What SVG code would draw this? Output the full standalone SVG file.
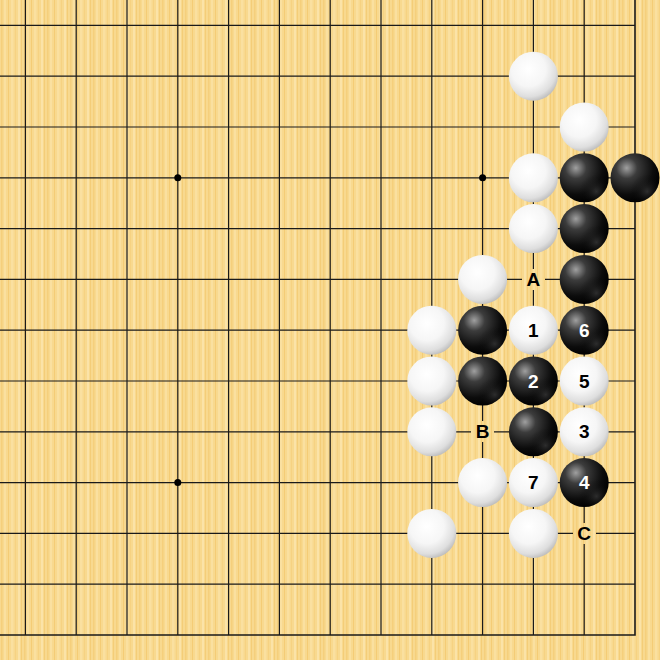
<svg xmlns="http://www.w3.org/2000/svg" width="660" height="660" viewBox="0 0 660 660">
<defs>
<pattern id="wood" patternUnits="userSpaceOnUse" x="0" y="0" width="23" height="10">
<rect width="23" height="10" fill="#F8D98F"/>
<rect x="1" width="1.5" height="10" fill="#F5CF7C"/>
<rect x="4" width="2" height="10" fill="#FAE0A0"/>
<rect x="8" width="1" height="10" fill="#F4CC76"/>
<rect x="11" width="2.5" height="10" fill="#FAE0A0"/>
<rect x="15" width="1" height="10" fill="#F6D282"/>
<rect x="18" width="2" height="10" fill="#FBE3A8"/>
<rect x="21" width="1" height="10" fill="#F4CD78"/>
</pattern>
<radialGradient id="gb" cx="0.33" cy="0.3" r="0.72">
<stop offset="0" stop-color="#a0a0a0"/>
<stop offset="0.3" stop-color="#3c3c3c"/>
<stop offset="0.75" stop-color="#0c0c0c"/>
<stop offset="1" stop-color="#000"/>
</radialGradient>
<radialGradient id="gbr" cx="0.75" cy="0.78" r="0.35">
<stop offset="0" stop-color="#555" stop-opacity="0.5"/>
<stop offset="1" stop-color="#000" stop-opacity="0"/>
</radialGradient>
<radialGradient id="gw" cx="0.4" cy="0.36" r="0.7">
<stop offset="0" stop-color="#ffffff"/>
<stop offset="0.5" stop-color="#f6f6f6"/>
<stop offset="0.8" stop-color="#dedede"/>
<stop offset="1" stop-color="#b4b4b4"/>
</radialGradient>
<style>
.ln{stroke:#1a1a1a;stroke-width:1.2;fill:none}
.edge{stroke:#1a1a1a;stroke-width:1.6;fill:none}
.b{fill:url(#gb)}
.br{fill:url(#gbr)}
.w{fill:url(#gw)}
.lb{font-family:"Liberation Sans",Arial,sans-serif;font-weight:bold;font-size:19px;text-anchor:middle;dominant-baseline:central}
.onb{fill:#fff}
.onw{fill:#000}
.mk{fill:#000}
</style>
</defs>
<rect width="660" height="660" fill="url(#wood)"/>
<g id="grid">
<path class="ln" d="M0 25.4H635 M0 76.2H635 M0 127H635 M0 177.8H635 M0 228.6H635 M0 279.4H635 M0 330.2H635 M0 381H635 M0 431.8H635 M0 482.6H635 M0 533.4H635 M0 584.2H635"/>
<path class="ln" d="M25.4 0V635 M76.2 0V635 M127 0V635 M177.8 0V635 M228.6 0V635 M279.4 0V635 M330.2 0V635 M381 0V635 M431.8 0V635 M482.6 0V635 M533.4 0V635 M584.2 0V635"/>
<path class="edge" d="M0 635H635V0"/>
<circle cx="177.8" cy="177.8" r="3.5" fill="#000"/>
<circle cx="482.6" cy="177.8" r="3.5" fill="#000"/>
<circle cx="177.8" cy="482.6" r="3.5" fill="#000"/>
<circle cx="482.6" cy="482.6" r="3.5" fill="#000"/>
</g>
<g id="stones">
<circle class="w" cx="533.4" cy="76.2" r="24.5"/>
<circle class="w" cx="584.2" cy="127" r="24.5"/>
<circle class="w" cx="533.4" cy="177.8" r="24.5"/>
<circle class="b" cx="584.2" cy="177.8" r="24.5"/><circle class="br" cx="584.2" cy="177.8" r="24.5"/>
<circle class="b" cx="635" cy="177.8" r="24.5"/><circle class="br" cx="635" cy="177.8" r="24.5"/>
<circle class="w" cx="533.4" cy="228.6" r="24.5"/>
<circle class="b" cx="584.2" cy="228.6" r="24.5"/><circle class="br" cx="584.2" cy="228.6" r="24.5"/>
<circle class="w" cx="482.6" cy="279.4" r="24.5"/>
<circle class="b" cx="584.2" cy="279.4" r="24.5"/><circle class="br" cx="584.2" cy="279.4" r="24.5"/>
<circle class="w" cx="431.8" cy="330.2" r="24.5"/>
<circle class="b" cx="482.6" cy="330.2" r="24.5"/><circle class="br" cx="482.6" cy="330.2" r="24.5"/>
<circle class="w" cx="533.4" cy="330.2" r="24.5"/>
<circle class="b" cx="584.2" cy="330.2" r="24.5"/><circle class="br" cx="584.2" cy="330.2" r="24.5"/>
<circle class="w" cx="431.8" cy="381" r="24.5"/>
<circle class="b" cx="482.6" cy="381" r="24.5"/><circle class="br" cx="482.6" cy="381" r="24.5"/>
<circle class="b" cx="533.4" cy="381" r="24.5"/><circle class="br" cx="533.4" cy="381" r="24.5"/>
<circle class="w" cx="584.2" cy="381" r="24.5"/>
<circle class="w" cx="431.8" cy="431.8" r="24.5"/>
<circle class="b" cx="533.4" cy="431.8" r="24.5"/><circle class="br" cx="533.4" cy="431.8" r="24.5"/>
<circle class="w" cx="584.2" cy="431.8" r="24.5"/>
<circle class="w" cx="482.6" cy="482.6" r="24.5"/>
<circle class="w" cx="533.4" cy="482.6" r="24.5"/>
<circle class="b" cx="584.2" cy="482.6" r="24.5"/><circle class="br" cx="584.2" cy="482.6" r="24.5"/>
<circle class="w" cx="431.8" cy="533.4" r="24.5"/>
<circle class="w" cx="533.4" cy="533.4" r="24.5"/>
</g>
<g id="labels">
<text class="lb onw" x="533.4" y="330.2">1</text>
<text class="lb onb" x="533.4" y="381">2</text>
<text class="lb onw" x="584.2" y="431.8">3</text>
<text class="lb onb" x="584.2" y="482.6">4</text>
<text class="lb onw" x="584.2" y="381">5</text>
<text class="lb onb" x="584.2" y="330.2">6</text>
<text class="lb onw" x="533.4" y="482.6">7</text>
<rect x="522" y="269" width="23" height="21" fill="url(#wood)"/>
<text class="lb mk" x="533.4" y="279.4">A</text>
<rect x="471" y="421" width="23" height="21" fill="url(#wood)"/>
<text class="lb mk" x="482.6" y="431.8">B</text>
<rect x="573" y="523" width="23" height="21" fill="url(#wood)"/>
<text class="lb mk" x="584.2" y="533.4">C</text>
</g>
</svg>
